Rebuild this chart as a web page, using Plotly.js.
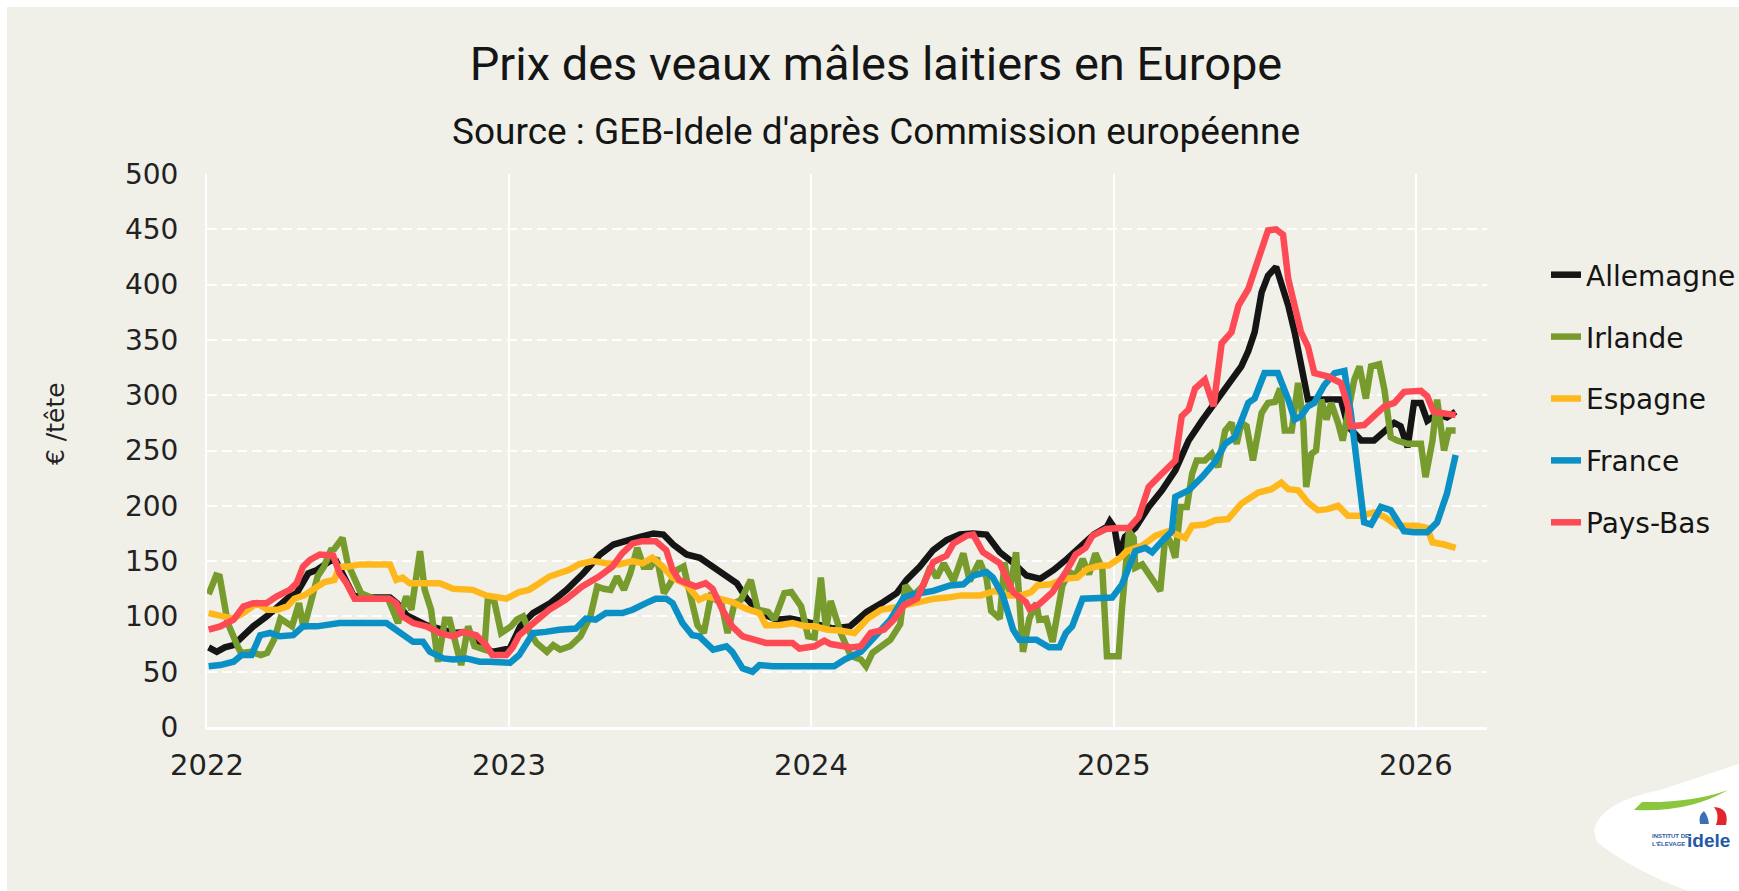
<!DOCTYPE html>
<html><head><meta charset="utf-8">
<script src="https://cdn.plot.ly/plotly-3.0.1.min.js"></script>
<style>html,body{margin:0;padding:0;background:#fff;} #chart{position:absolute;left:7px;top:7px;width:1732px;height:884px;}</style>
</head><body><div id="chart"></div>
<script>
// Weekly time index: week 0 = 2022-01-03
const seriesNames = ["Allemagne", "Irlande", "Espagne", "France", "Pays-Bas"];

const allemagneWeeks = [0,1.4,2.8,4.3,5.7,7.7,10,12.6,14,15.2,16.2,17.2,18.7,20,21.2,22,23.5,25,27,31.3,32.5,34.2,37.6,40,42.3,44.6,47.4,49.2,50.9,52,53.8,56,59,61.8,64.7,67.6,69.9,72.2,74.5,76.8,78.5,80.2,82.5,84.8,87.1,89.4,91.2,92.9,95.2,98.1,100.4,103.3,105.6,107.9,110.7,113.6,116.5,118.8,120.5,122.8,125.1,127.4,129.7,132,134.3,136.6,139,141.2,143.6,145.9,148.2,150.5,152.8,155.1,155.6,156.4,157.2,158.2,160,162.3,164.6,166.9,169.2,171.5,173.8,176,178.3,179.5,180.6,181.8,182.9,184.3,185.2,186.4,187.5,188.6,189.8,192,195.5,196.7,199,201.2,203,204.7,205.8,207,208.1,209.3,210.4,212.1,213.8,215.3];
const allemagneValues = [72,68,72,74,81,91,100,113,118,121,130,139,142,146,151,150,136,119,117,117,112,101,92,88,85,86,71,68,70,71,91,103,112,124,139,156,165,169,172,175,174,165,156,153,145,136,130,116,103,97,98,95,92,89,91,104,113,121,133,145,160,169,174,175,174,158,148,137,134,142,152,164,174,181,186,180,155,172,180,199,214,232,259,277,293,308,326,340,357,393,408,416,402,381,357,329,296,296,296,272,259,259,268,275,272,253,293,293,277,283,280,285];

const irlandeWeeks = [0,1.3,1.9,3.3,5,5.6,7.3,9,10.1,11.3,12.4,13.6,14.4,15.6,16.4,17.6,18.8,19.9,21.1,21.7,23.1,24,25.2,26.3,28.6,31,32.7,34.1,35,36.5,37.3,38.4,39.6,40.8,41.6,43.6,44.8,45.9,47.6,48.2,49.3,50.5,52.2,53.2,54.3,55.5,56.6,58.4,59.5,60.7,62.4,64.2,65.9,67.1,68.2,69.4,70.5,71.7,72.8,74,75.1,76.3,77.4,78.6,79.7,80.9,82,83.2,84.4,85.5,86.7,88.5,89.6,90.8,91.9,93.6,94.8,96.6,97.7,99.4,100.6,102.3,103.5,104.6,105.7,106.6,107.4,109.2,110.9,112.6,113.5,114.6,116,117.7,119.4,120.3,121.7,123.4,124.6,125.7,126.9,128.6,130.3,131.4,133.1,134.3,135.1,136.6,137.4,138.3,139.4,140.6,141.7,142.9,143.4,144.6,145.7,147.4,148.6,149.7,150.9,152,153.1,154.3,155.1,157.1,157.7,158.9,159.7,160,161.2,162.9,164.3,165.2,166,166.9,167.8,168.9,169.8,170.6,172,173.2,174.3,175.5,176.6,177.5,178.3,179.2,180.3,181.8,182.9,184.1,185,185.8,187,188.1,189,189.5,190.4,191.2,192.1,193,193.8,195,195.8,196.7,197.8,198.7,199.8,200.7,202.1,203,204.1,205.2,207,209.3,210.1,211.3,212.1,213.3,214.1,215.3];
const irlandeValues = [120,137,136,94,73,67,68,65,67,79,98,94,91,112,89,112,136,145,160,161,171,148,133,121,116,116,94,118,106,159,124,106,59,97,97,56,91,73,70,115,114,85,91,97,100,85,76,68,74,70,73,82,100,127,125,124,136,124,139,162,145,145,153,121,130,142,145,121,92,85,118,112,85,112,115,133,106,104,97,121,122,109,82,81,135,88,114,84,64,61,55,67,72,79,93,128,119,128,145,135,148,132,157,132,150,135,105,98,149,122,158,68,98,112,97,98,77,128,140,137,152,138,157,143,64,64,108,177,171,144,147,135,123,174,168,153,199,199,229,241,241,247,235,268,275,256,275,272,241,284,293,294,306,268,268,311,275,217,247,250,296,278,293,275,259,284,314,326,297,326,328,305,262,259,256,256,226,259,296,250,268,268];

const espagneWeeks = [0,2,4.3,6,8.3,10.2,11.9,13.6,14.8,16.5,18.2,20,21.7,22.6,24,26.1,31.3,32.4,33.5,34.7,37.6,39.9,42.2,43.9,45.6,47.9,51.4,53.6,55.3,57.1,58.8,60.5,62.2,63.9,66.3,68.6,70.9,73.2,74.9,76.6,78.4,80.1,82.4,84.7,85.9,88.2,90.4,92.8,95.1,96.2,98.5,100.8,103.1,104.6,106.9,109.2,111.5,113.8,116.1,118.4,120.7,123,125.3,127.6,129.9,133.3,135.7,138,140.3,142,143.1,145.4,147.7,150,151.7,154,155.4,157.4,158.5,161.2,163.5,165.7,168.6,169.8,172,173.8,176,178.3,181.2,183.5,184.6,185.2,186.4,188.1,189.8,191.5,193.2,195,196.7,199,201.2,203,205.2,208.7,210.4,211.3,213.3,215.3];
const espagneValues = [103,100,98,103,112,106,106,109,116,119,125,131,133,145,145,147,147,133,135,130,130,130,125,125,124,119,116,122,124,130,136,139,142,147,150,148,147,150,148,153,145,135,129,115,118,116,113,107,103,92,92,94,91,91,88,87,85,98,106,108,111,114,116,117,119,119,123,119,119,122,128,129,134,135,143,146,146,153,159,164,173,177,171,182,183,187,188,202,212,215,218,221,215,214,203,196,197,200,191,191,194,190,182,182,180,167,165,162];

const franceWeeks = [0,2,4.3,5.7,7.4,8.9,10.6,12.3,14.6,16.3,18.7,21,22.6,30.7,33,35.3,37,38.2,40.5,42.2,44.5,46.8,48.5,52,53.6,56,58.2,60.5,63.4,65.1,66.8,68.6,71.4,73.2,75.5,77.2,79,80.1,81.8,83.5,84.7,87.1,89.4,90.4,92.2,93.9,95.1,97.4,108,109.8,112.6,115.4,117.7,120,121.7,125.1,128,130.3,132,134.3,135.4,137.1,138.9,140,142.9,145.1,146.9,148,149.1,150.9,153.7,156,157.7,160,161.7,162.9,164.6,166.3,166.9,169.2,171.5,173.8,175.5,177.2,179.5,180.6,182.3,184.6,186.4,187.5,188.6,189.8,190.9,192.6,194.4,196.1,197.2,199,199.5,200.7,202.4,204.1,206.4,208.1,210.4,212.1,213.8,215.3];
const franceValues = [55,56,59,65,65,83,85,82,83,91,91,92,94,94,85,77,77,68,62,61,62,59,59,58,65,85,86,88,89,98,97,103,103,106,112,116,116,112,94,83,82,70,73,68,53,50,56,55,55,61,68,85,97,117,120,123,128,129,137,140,135,119,88,79,79,72,72,85,91,116,117,117,129,159,162,158,168,177,208,214,226,240,256,262,293,297,320,320,296,278,281,290,293,309,320,322,284,208,185,183,199,196,177,176,176,185,211,246];

const paysBasWeeks = [0,2,4.3,6,7.7,10,11.7,14,15.2,16.3,17.5,19.2,21.5,22.6,23.8,25.2,27.2,31.2,32.4,33.5,35.3,37.6,39.9,42.2,43.9,46.2,47.9,49,51.4,52.5,53.6,55.9,58.8,61.6,64.5,67.4,69.7,71.4,73.2,74.9,77.2,79,80.1,81.2,82.4,84.1,85.8,87,88.7,90.4,92.2,93.9,96.2,98.5,100.8,102,104.6,106.3,107.4,110.9,112.6,114.3,116.6,118.3,120,122.3,125.1,127.4,128.6,130.9,132,133.7,135.4,136.6,138.9,141.1,141.7,143.4,145.7,148,149.7,151.4,152.6,154.9,157.1,158.9,160.6,162.3,164,165.7,166.9,168,169.2,170.3,172,173.5,174.9,176.6,177.8,179.5,180.6,181.8,182.9,184.3,185.5,186.4,187.5,188.6,189.8,190.9,193.2,195.5,196.7,197.2,199.5,201.2,203,204.7,206.4,209.3,210.4,211.5,213.3,215.3];
const paysBasValues = [88,91,97,109,112,112,118,124,130,145,151,156,155,139,130,116,116,116,112,100,94,91,85,82,86,83,74,65,65,72,83,94,106,115,127,136,145,157,166,168,168,160,142,133,130,127,130,125,106,91,82,79,76,76,76,71,73,78,75,72,73,85,88,97,110,116,149,155,166,173,174,158,152,148,122,113,107,111,122,140,156,162,173,179,180,180,190,217,226,235,241,281,287,306,314,290,347,357,381,396,414,435,449,450,445,405,381,357,344,320,317,311,290,272,273,281,290,293,303,304,299,285,283,282];

const yTicks = [0,50,100,150,200,250,300,350,400,450,500];
const xTickYears = ["2022","2023","2024","2025","2026"];

const colors = ["#151515", "#789b2d", "#ffb81c", "#0b90c6", "#fe4a54"];

const START = Date.UTC(2022, 0, 3);
const WEEK = 7 * 86400000;
function toDates(ws) {
  return ws.map(w => new Date(START + w * WEEK).toISOString().slice(0, 19).replace('T', ' '));
}

const weekSets = [allemagneWeeks, irlandeWeeks, espagneWeeks, franceWeeks, paysBasWeeks];
const valueSets = [allemagneValues, irlandeValues, espagneValues, franceValues, paysBasValues];

const traces = seriesNames.map((name, i) => ({
  type: 'scatter', mode: 'lines', name: name,
  x: toDates(weekSets[i]), y: valueSets[i],
  line: {color: colors[i], width: 6.5},
  legendgroup: name
}));

// pixel -> paper helpers (full-page pixel coords), for decoration only
const PL = 207, PR = 1487, PT = 174, PB = 727;
const px = x => (x - PL) / (PR - PL);
const py = y => (PB - y) / (PB - PT);
function path(pts) {
  return pts.map(s => s.replace(/(-?[\d.]+),(-?[\d.]+)/g, (m, a, b) => px(+a).toFixed(4) + ',' + py(+b).toFixed(4))).join(' ');
}

const shapes = [
  {type: 'path', xref: 'paper', yref: 'paper', layer: 'above', line: {width: 0}, fillcolor: '#ffffff',
   path: path(['M1594,830', 'Q1600,802 1660,790', 'L1739,764', 'L1739,891', 'L1688,891', 'Q1632,870 1597,842', 'Z'])},
  {type: 'path', xref: 'paper', yref: 'paper', layer: 'above', line: {width: 0}, fillcolor: '#8cc63f',
   path: path(['M1634,810', 'Q1688,813 1728,790', 'Q1692,803 1642,802', 'Z'])},
  {type: 'path', xref: 'paper', yref: 'paper', layer: 'above', line: {width: 0}, fillcolor: '#e3262b',
   path: path(['M1714,807', 'Q1730,808 1726,825', 'L1716,825', 'Q1720,814 1714,807', 'Z'])},
  {type: 'path', xref: 'paper', yref: 'paper', layer: 'above', line: {width: 0}, fillcolor: '#3b6fb6',
   path: path(['M1704,811', 'Q1698,816 1700,824', 'L1709,824', 'Q1708,816 1704,811', 'Z'])}
];

const annotations = [
  {text: "Source : GEB-Idele d'après Commission européenne", xref: 'paper', yref: 'paper',
   x: px(876), y: py(131), xanchor: 'center', yanchor: 'middle', showarrow: false,
   font: {family: 'Roboto, sans-serif', size: 37, color: '#151515'}},
  {text: "€ /tête", xref: 'paper', yref: 'paper', x: px(55), y: py(424), textangle: -90,
   xanchor: 'center', yanchor: 'middle', showarrow: false,
   font: {family: 'DejaVu Sans, sans-serif', size: 25, color: '#222'}},
  {text: "<b>idele</b>", xref: 'paper', yref: 'paper', x: px(1708), y: py(840), showarrow: false,
   xanchor: 'center', yanchor: 'middle', font: {family: 'Liberation Sans, sans-serif', size: 19, color: '#1f5aa6'}},
  {text: "<b>INSTITUT DE<br>L'ÉLEVAGE</b>", xref: 'paper', yref: 'paper', x: px(1670), y: py(840), showarrow: false,
   xanchor: 'center', yanchor: 'middle', align: 'left', font: {family: 'Liberation Sans, sans-serif', size: 6, color: '#2a5aa0'}}
];

const layout = {
  width: 1732, height: 884,
  paper_bgcolor: '#f0f0e8', plot_bgcolor: '#f0f0e8',
  margin: {l: 200, r: 252, t: 167, b: 164, pad: 0, autoexpand: false},
  title: {text: 'Prix des veaux mâles laitiers en Europe', xref: 'container', yref: 'container',
          x: (876 - 7) / 1732, y: 1 - (64 - 7) / 884, xanchor: 'center', yanchor: 'middle',
          font: {family: 'Roboto, sans-serif', size: 47, color: '#151515'}},
  xaxis: {type: 'date', range: ['2022-01-01', '2026-03-28'],
          tickvals: xTickYears.map(y => y + '-01-01'), ticktext: xTickYears,
          showgrid: true, gridcolor: '#ffffff', gridwidth: 2,
          showline: true, linecolor: '#ffffff', linewidth: 3,
          ticks: '', ticklabelstandoff: 10,
          tickfont: {family: 'DejaVu Sans, sans-serif', size: 29, color: '#222'},
          zeroline: false, fixedrange: true},
  yaxis: {range: [0, 500], tickvals: yTicks, ticktext: yTicks.map(String),
          showgrid: true, gridcolor: '#ffffff', gridwidth: 2, griddash: '10px,5px',
          showline: true, linecolor: '#ffffff', linewidth: 2,
          zeroline: false, ticks: '', ticklabelstandoff: 21,
          tickfont: {family: 'DejaVu Sans, sans-serif', size: 28, color: '#222'}, fixedrange: true},
  showlegend: true,
  legend: {xref: 'container', yref: 'container', x: (1546 - 7) / 1732, xanchor: 'left',
           y: 1 - (250 - 7) / 884, yanchor: 'top',
           bgcolor: 'rgba(0,0,0,0)', traceorder: 'grouped', tracegroupgap: 22.5,
           font: {family: 'DejaVu Sans, sans-serif', size: 28, color: '#151515'}},
  shapes: shapes,
  annotations: annotations
};

Plotly.newPlot('chart', traces, layout, {displayModeBar: false, staticPlot: true});
</script>
</body></html>
